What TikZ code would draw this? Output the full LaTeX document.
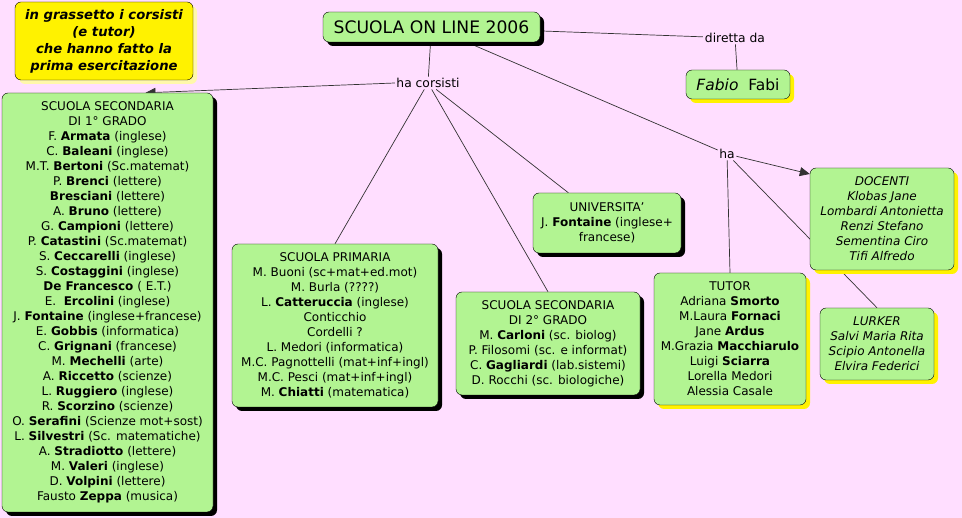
\documentclass[tikz,border=0pt]{standalone}
\usepackage{fontspec}
\setmainfont{DejaVu Sans}
\usetikzlibrary{arrows.meta,shadows,backgrounds,positioning}
\definecolor{bgpink}{RGB}{255,222,255}
\definecolor{cmapgreen}{RGB}{178,244,146}
\definecolor{paleshade}{RGB}{255,248,170}

\begin{document}
\begin{tikzpicture}[
    x=1pt, y=-1pt,
    concept/.style={draw, rounded corners=6pt, fill=cmapgreen, align=center, inner sep=2pt, font=\fontsize{12}{15}\selectfont},
    darkshade/.style={drop shadow={fill=black, opacity=1, shadow xshift=4pt, shadow yshift=-4pt}},
    yellowshade/.style={drop shadow={fill=yellow, opacity=1, shadow xshift=4pt, shadow yshift=-4pt}},
    link/.style={inner sep=1.5pt, fill=bgpink, font=\fontsize{12.3}{14}\selectfont},
    conn/.style={draw=black!80, line width=0.7pt},
    arr/.style={conn, -{Triangle[length=10pt,width=9pt]}}
]
\begin{scope}[on background layer]
\path[use as bounding box, fill=bgpink] (0,0) rectangle (962,518);
\end{scope}

% note and title
\node[concept, fill=yellow, drop shadow={fill=paleshade, opacity=1, shadow xshift=4pt, shadow yshift=-4pt},
      minimum width=178pt, minimum height=78pt, font=\fontsize{13.2}{17}\selectfont\bfseries\itshape] (note) at (104,41)
    {in grassetto i corsisti\\(e tutor)\\che hanno fatto la\\prima esercitazione};
\node[concept, darkshade, minimum width=217pt, minimum height=30pt, font=\fontsize{17.2}{19}\selectfont] (title) at (431.5,27)
    {SCUOLA ON LINE 2006};

% direction
\node[link] (diretta) at (735,38) {diretta da};
\node[concept, yellowshade, minimum width=104pt, minimum height=29pt, font=\fontsize{15.5}{17}\selectfont] (fabio) at (738,84.5)
    {\textit{Fabio}\ \ Fabi};

% corsisti
\node[link] (corsisti) at (428,83) {ha corsisti};
\node[concept, darkshade, minimum width=211pt, minimum height=419pt] (sec1) at (107.5,302.5)
    {SCUOLA SECONDARIA\\DI 1° GRADO\\
     F. \textbf{Armata} (inglese)\\
     C. \textbf{Baleani} (inglese)\\
     M.T. \textbf{Bertoni} (Sc.matemat)\\
     P. \textbf{Brenci} (lettere)\\
     \textbf{Bresciani} (lettere)\\
     A. \textbf{Bruno} (lettere)\\
     G. \textbf{Campioni} (lettere)\\
     P. \textbf{Catastini} (Sc.matemat)\\
     S. \textbf{Ceccarelli} (inglese)\\
     S. \textbf{Costaggini} (inglese)\\
     \textbf{De Francesco} ( E.T.)\\
     E.\ \ \textbf{Ercolini} (inglese)\\
     J. \textbf{Fontaine} (inglese+francese)\\
     E. \textbf{Gobbis} (informatica)\\
     C. \textbf{Grignani} (francese)\\
     M. \textbf{Mechelli} (arte)\\
     A. \textbf{Riccetto} (scienze)\\
     L. \textbf{Ruggiero} (inglese)\\
     R. \textbf{Scorzino} (scienze)\\
     O. \textbf{Serafini} (Scienze mot+sost)\\
     L. \textbf{Silvestri} (Sc. matematiche)\\
     A. \textbf{Stradiotto} (lettere)\\
     M. \textbf{Valeri} (inglese)\\
     D. \textbf{Volpini} (lettere)\\
     Fausto \textbf{Zeppa} (musica)};
\node[concept, darkshade, minimum width=206pt, minimum height=163pt] (prim) at (335,325.5)
    {SCUOLA PRIMARIA\\
     M. Buoni (sc+mat+ed.mot)\\
     M. Burla (????)\\
     L. \textbf{Catteruccia} (inglese)\\
     Conticchio\\
     Cordelli ?\\
     L. Medori (informatica)\\
     M.C. Pagnottelli (mat+inf+ingl)\\
     M.C. Pesci (mat+inf+ingl)\\
     M. \textbf{Chiatti} (matematica)};
\node[concept, darkshade, minimum width=148pt, minimum height=60pt] (univ) at (607,223)
    {UNIVERSITA'\\J. \textbf{Fontaine} (inglese+\\francese)};
\node[concept, darkshade, minimum width=184pt, minimum height=103pt] (sec2) at (548,343.5)
    {SCUOLA SECONDARIA\\DI 2° GRADO\\
     M. \textbf{Carloni} (sc. biolog)\\
     P. Filosomi (sc. e informat)\\
     C. \textbf{Gagliardi} (lab.sistemi)\\
     D. Rocchi (sc. biologiche)};

% staff
\node[link] (ha) at (727,154) {ha};
\node[concept, yellowshade, minimum width=152pt, minimum height=132pt] (tutor) at (730,339)
    {TUTOR\\
     Adriana \textbf{Smorto}\\
     M.Laura \textbf{Fornaci}\\
     Jane \textbf{Ardus}\\
     M.Grazia \textbf{Macchiarulo}\\
     Luigi \textbf{Sciarra}\\
     Lorella Medori\\
     Alessia Casale};
\node[concept, yellowshade, minimum width=144pt, minimum height=102pt, font=\fontsize{12}{15}\selectfont\itshape] (docenti) at (882,219)
    {DOCENTI\\Klobas Jane\\Lombardi Antonietta\\Renzi Stefano\\Sementina Ciro\\Tifi Alfredo};
\node[concept, yellowshade, minimum width=114pt, minimum height=72pt, font=\fontsize{12}{15}\selectfont\itshape] (lurker) at (877,344)
    {LURKER\\Salvi Maria Rita\\Scipio Antonella\\Elvira Federici};

\begin{scope}[on background layer]
\draw[conn] (title) -- (diretta);
\draw[conn] (diretta) -- (fabio);
\draw[conn] (title) -- (corsisti);
\draw[arr] (corsisti.west) -- ([xshift=38pt]sec1.north);
\draw[conn] (corsisti) -- (prim.north);
\draw[conn] (corsisti) -- (univ);
\draw[conn] (corsisti) -- (sec2.north);
\draw[conn] (title) -- (ha);
\draw[arr] (ha) -- ([yshift=45pt]docenti.west);
\draw[conn] (ha) -- (tutor.north);
\draw[conn] (ha) -- (lurker.north);
\end{scope}
\end{tikzpicture}
\end{document}
